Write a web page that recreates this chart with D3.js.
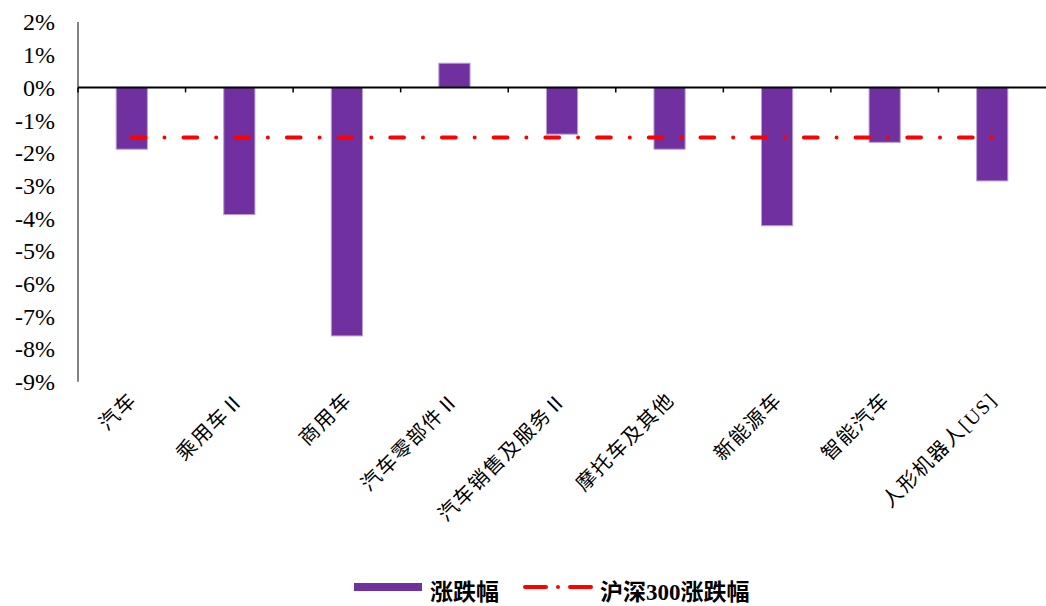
<!DOCTYPE html>
<html>
<head>
<meta charset="utf-8">
<title>涨跌幅</title>
<script src="https://d3js.org/d3.v7.min.js"></script>
<style>
  body { margin: 0; background: #fff; }
</style>
</head>
<body>
<div id="chart"></div>
<script>
// data (%)
var categories = ["汽车", "乘用车Ⅱ", "商用车", "汽车零部件Ⅱ", "汽车销售及服务Ⅱ", "摩托车及其他", "新能源车", "智能汽车", "人形机器人[US]"];
var changes = [-1.89, -3.89, -7.60, 0.74, -1.43, -1.89, -4.23, -1.68, -2.86];
var hs300 = [-1.53, -1.53, -1.53, -1.53, -1.53, -1.53, -1.53, -1.53, -1.53];
var yTicks = [2, 1, 0, -1, -2, -3, -4, -5, -6, -7, -8, -9];
var legendNames = ["涨跌幅", "沪深300涨跌幅"];

var width = 1046, height = 606;

var svg = d3.select("#chart")
    .append("svg")
    .attr("width", width)
    .attr("height", height);

var x = d3.scaleBand()
    .domain(categories)
    .range([78, 1046])
    .paddingInner(0.71)
    .paddingOuter(0.355);

var y = d3.scaleLinear()
    .domain([-9, 2])
    .range([381.7, 22]);

// Y axis
svg.append("line")
    .attr("x1", 78).attr("x2", 78)
    .attr("y1", y(2)).attr("y2", y(-9))
    .attr("stroke", "#595959")
    .attr("stroke-width", 1.5);

svg.append("g")
    .selectAll("text")
    .data(yTicks)
    .enter()
    .append("text")
    .attr("x", 55)
    .attr("y", function(d) { return y(d); })
    .attr("dy", "0.35em")
    .attr("text-anchor", "end")
    .style("font-family", "'Liberation Serif', 'Times New Roman', serif")
    .style("font-size", "24px")
    .style("fill", "#000")
    .text(function(d) { return d + "%"; });

// Bars
svg.append("g")
    .selectAll("rect")
    .data(categories)
    .enter()
    .append("rect")
    .attr("x", function(d) { return x(d); })
    .attr("width", x.bandwidth())
    .attr("y", function(d, i) { return y(Math.max(0, changes[i])); })
    .attr("height", function(d, i) { return Math.abs(y(changes[i]) - y(0)); })
    .attr("fill", "#7030A0")
    .attr("stroke", "#b9a0cf")
    .attr("stroke-width", 1);

// X axis at zero
var step = x.step();
svg.append("line")
    .attr("x1", 78).attr("x2", 1046)
    .attr("y1", y(0)).attr("y2", y(0))
    .attr("stroke", "#000")
    .attr("stroke-width", 2);

svg.append("g")
    .selectAll("line")
    .data(categories)
    .enter()
    .append("line")
    .attr("x1", function(d) { return x(d) - step * 0.355; })
    .attr("x2", function(d) { return x(d) - step * 0.355; })
    .attr("y1", y(0))
    .attr("y2", y(0) + 5)
    .attr("stroke", "#000")
    .attr("stroke-width", 1.5);

// HS300 line
var line = d3.line()
    .x(function(d, i) { return x(categories[i]) + x.bandwidth() / 2; })
    .y(function(d) { return y(d); });

svg.append("path")
    .datum(hs300)
    .attr("d", line)
    .attr("fill", "none")
    .attr("stroke", "#FF0000")
    .attr("stroke-width", 4)
    .attr("stroke-linecap", "round")
    .attr("stroke-dasharray", "13.7 19 0 19");

// Category labels
svg.append("g")
    .selectAll("text")
    .data(categories)
    .enter()
    .append("text")
    .attr("transform", function(d) {
        return "translate(" + (x(d) + x.bandwidth() / 2 + 6) + ",401) rotate(-45)";
    })
    .attr("text-anchor", "end")
    .style("font-family", "'Liberation Serif', 'Noto Sans CJK SC', serif")
    .style("font-size", "20px")
    .style("letter-spacing", "1.5px")
    .style("fill", "#000")
    .text(function(d) { return d; });

// Legend
var legend = svg.append("g");
legend.append("rect")
    .attr("x", 354).attr("y", 583)
    .attr("width", 68).attr("height", 8)
    .attr("fill", "#7030A0");
legend.append("text")
    .attr("x", 430).attr("y", 592)
    .attr("dy", "0.35em")
    .style("font-family", "'Liberation Serif', 'Noto Sans CJK SC', serif")
    .style("font-weight", "bold")
    .style("font-size", "23px")
    .text(legendNames[0]);
legend.append("line")
    .attr("x1", 525).attr("x2", 591)
    .attr("y1", 587).attr("y2", 587)
    .attr("stroke", "#FF0000")
    .attr("stroke-width", 4)
    .attr("stroke-linecap", "round")
    .attr("stroke-dasharray", "21 12 0 12");
legend.append("text")
    .attr("x", 600).attr("y", 592)
    .attr("dy", "0.35em")
    .style("font-family", "'Liberation Serif', 'Noto Sans CJK SC', serif")
    .style("font-weight", "bold")
    .style("font-size", "23px")
    .text(legendNames[1]);
</script>
</body>
</html>
